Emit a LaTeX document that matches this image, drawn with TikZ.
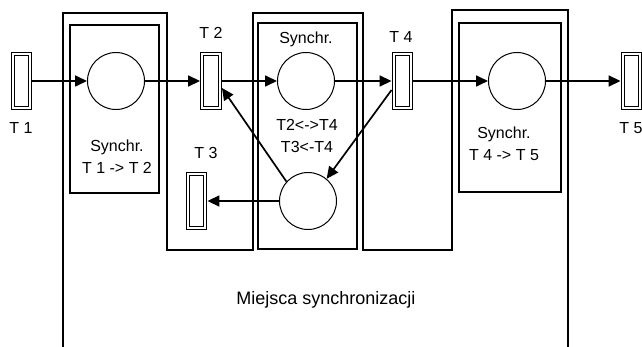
\documentclass[tikz,border=0pt]{standalone}
\usepackage{fontspec}
\setmainfont{Liberation Sans}
\usetikzlibrary{arrows.meta}
\tikzset{tr/.style={draw,double,line width=1pt,double distance=2.4pt,minimum width=17.5pt,minimum height=53.5pt,inner sep=0pt,outer sep=2.2pt},
 pl/.style={circle,draw,line width=1pt,minimum size=57pt,inner sep=0pt},
 flow/.style={-{Triangle[length=12pt,width=11pt]},line width=1.7pt},
 wire/.style={line width=1.2pt},
 txt/.style={align=center,font=\fontsize{16}{22}\selectfont,inner sep=0pt}}
\begin{document}
\begin{tikzpicture}[x=1pt,y=-1pt]
\useasboundingbox (0,0) rectangle (642,347);
% frames
\draw[wire](63,347)--(63,13)--(167,13)--(167,250)--(253,250)--(253,13)--(363,13)--(363,250)--(452,250)--(452,10)--(568,10)--(568,347);
\draw[wire](70,25) rectangle (159,193);
\draw[wire](258,23) rectangle (357,249);
\draw[wire](459,23) rectangle (561,192);
% transitions and places
\foreach \n/\x/\y in {t1/21.5/81,t2/211/81,t3/196.5/201,t4/402.5/81,t5/631.5/81}
 \node[tr](\n) at (\x,\y){};
\foreach \n/\x/\y in {p1/116/81,p2/306/81,p3/308/201,p4/517/81}
 \node[pl](\n) at (\x,\y){};
\foreach \a/\b in {t1/p1,p1/t2,t2/p2,p2/t4,t4/p4,p4/t5}
 \draw[flow](\a)--(\b);
\draw[flow](p3)--(t3);
\draw[flow](p3.138)--([yshift=-7pt]t2.east);
\draw[flow]([yshift=-9pt]t4.west)--(p3.50);
% labels
\node[txt](lt1) at (21,128){T 1};
\node[txt](lt2) at (211,33){T 2};
\node[txt](lt3) at (206,153){T 3};
\node[txt](lt4) at (401,37){T 4};
\node[txt](lt5) at (631,128){T 5};
\node[txt](s1) at (117,157){Synchr.\\T 1 -> T 2};
\node[txt](s2) at (306,39){Synchr.};
\node[txt](s2b) at (307,136){T2<->T4\\T3<-T4};
\node[txt](s3) at (504,144){Synchr.\\T 4 -> T 5};
\node[txt,font=\fontsize{18}{22}\selectfont](ms) at (326,300){Miejsca synchronizacji};
\end{tikzpicture}
\end{document}
